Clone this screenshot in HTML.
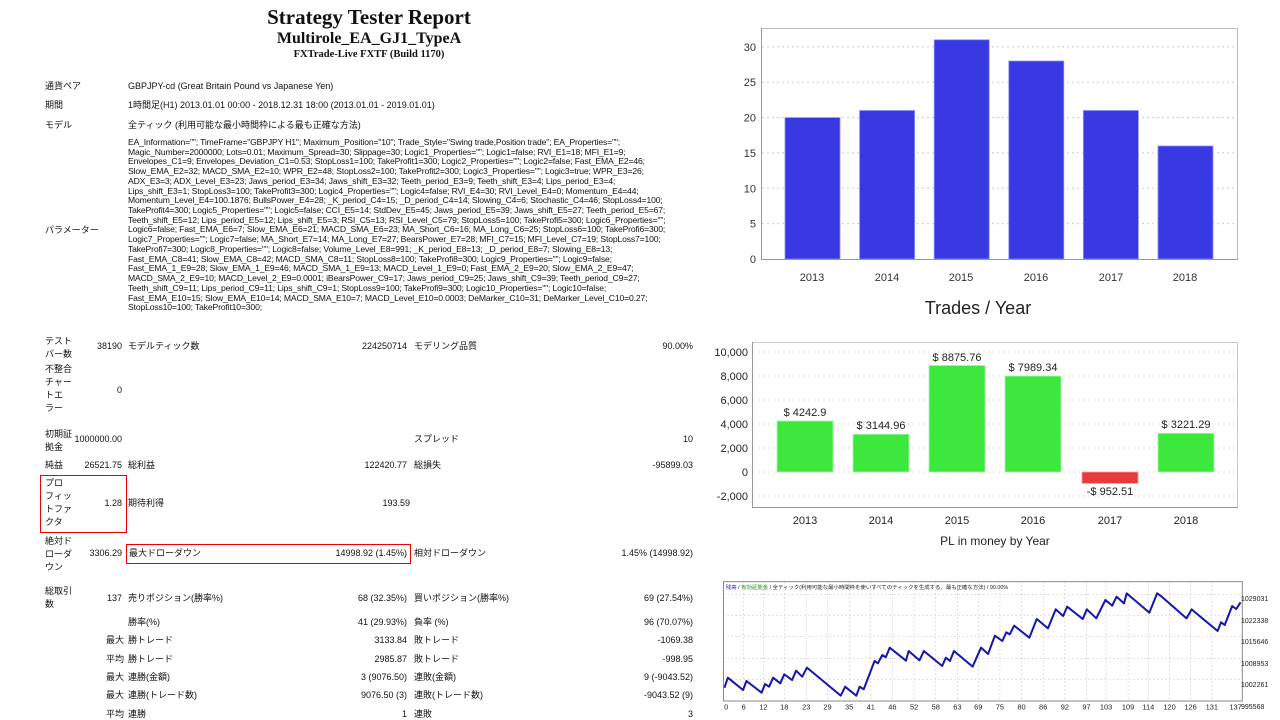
<!DOCTYPE html>
<html><head><meta charset="utf-8">
<style>
*{margin:0;padding:0;box-sizing:border-box}
body{width:1280px;height:720px;background:#fff;position:relative;overflow:hidden;font-family:"Liberation Sans","Noto Sans CJK JP",sans-serif;color:#111}
.a{position:absolute;white-space:nowrap;font-size:9px;line-height:11px}
.r{text-align:right}
.t{position:absolute;left:0;width:738px;text-align:center;font-family:"Liberation Serif",serif;font-weight:bold;white-space:nowrap}
.p{position:absolute;left:128px;top:138px;font-size:8.6px;line-height:9.72px;white-space:pre;letter-spacing:-0.15px}
.box{position:absolute;border:1px solid #e00}
</style></head><body>
<div class="t" style="top:5px;font-size:21px;line-height:24px">Strategy Tester Report</div>
<div class="t" style="top:29px;font-size:16px;line-height:19px">Multirole_EA_GJ1_TypeA</div>
<div class="t" style="top:49px;font-size:10.5px;line-height:12px">FXTrade-Live FXTF (Build 1170)</div>

<div class="a" style="left:45px;top:81px">通貨ペア</div><div class="a" style="left:128px;top:81px">GBPJPY-cd (Great Britain Pound vs Japanese Yen)</div>
<div class="a" style="left:45px;top:100px">期間</div><div class="a" style="left:128px;top:100px">1時間足(H1) 2013.01.01 00:00 - 2018.12.31 18:00 (2013.01.01 - 2019.01.01)</div>
<div class="a" style="left:45px;top:120px">モデル</div><div class="a" style="left:128px;top:120px">全ティック (利用可能な最小時間枠による最も正確な方法)</div>
<div class="a" style="left:45px;top:225px">パラメーター</div>
<div class="p">EA_Information=""; TimeFrame="GBPJPY H1"; Maximum_Position="10"; Trade_Style="Swing trade,Position trade"; EA_Properties="";
Magic_Number=2000000; Lots=0.01; Maximum_Spread=30; Slippage=30; Logic1_Properties=""; Logic1=false; RVI_E1=18; MFI_E1=9;
Envelopes_C1=9; Envelopes_Deviation_C1=0.53; StopLoss1=100; TakeProfit1=300; Logic2_Properties=""; Logic2=false; Fast_EMA_E2=46;
Slow_EMA_E2=32; MACD_SMA_E2=10; WPR_E2=48; StopLoss2=100; TakeProfit2=300; Logic3_Properties=""; Logic3=true; WPR_E3=26;
ADX_E3=3; ADX_Level_E3=23; Jaws_period_E3=34; Jaws_shift_E3=32; Teeth_period_E3=9; Teeth_shift_E3=4; Lips_period_E3=4;
Lips_shift_E3=1; StopLoss3=100; TakeProfit3=300; Logic4_Properties=""; Logic4=false; RVI_E4=30; RVI_Level_E4=0; Momentum_E4=44;
Momentum_Level_E4=100.1876; BullsPower_E4=28; _K_period_C4=15; _D_period_C4=14; Slowing_C4=6; Stochastic_C4=46; StopLoss4=100;
TakeProfit4=300; Logic5_Properties=""; Logic5=false; CCI_E5=14; StdDev_E5=45; Jaws_period_E5=39; Jaws_shift_E5=27; Teeth_period_E5=67;
Teeth_shift_E5=12; Lips_period_E5=12; Lips_shift_E5=3; RSI_C5=13; RSI_Level_C5=79; StopLoss5=100; TakeProfi5=300; Logic6_Properties="";
Logic6=false; Fast_EMA_E6=7; Slow_EMA_E6=21; MACD_SMA_E6=23; MA_Short_C6=16; MA_Long_C6=25; StopLoss6=100; TakeProfi6=300;
Logic7_Properties=""; Logic7=false; MA_Short_E7=14; MA_Long_E7=27; BearsPower_E7=28; MFI_C7=15; MFI_Level_C7=19; StopLoss7=100;
TakeProfi7=300; Logic8_Properties=""; Logic8=false; Volume_Level_E8=991; _K_period_E8=13; _D_period_E8=7; Slowing_E8=13;
Fast_EMA_C8=41; Slow_EMA_C8=42; MACD_SMA_C8=11; StopLoss8=100; TakeProfi8=300; Logic9_Properties=""; Logic9=false;
Fast_EMA_1_E9=28; Slow_EMA_1_E9=46; MACD_SMA_1_E9=13; MACD_Level_1_E9=0; Fast_EMA_2_E9=20; Slow_EMA_2_E9=47;
MACD_SMA_2_E9=10; MACD_Level_2_E9=0.0001; iBearsPower_C9=17; Jaws_period_C9=25; Jaws_shift_C9=39; Teeth_period_C9=27;
Teeth_shift_C9=11; Lips_period_C9=11; Lips_shift_C9=1; StopLoss9=100; TakeProfi9=300; Logic10_Properties=""; Logic10=false;
Fast_EMA_E10=15; Slow_EMA_E10=14; MACD_SMA_E10=7; MACD_Level_E10=0.0003; DeMarker_C10=31; DeMarker_Level_C10=0.27;
StopLoss10=100; TakeProfit10=300;</div>

<!-- stats -->
<div class="a" style="left:45px;top:335px;line-height:13px">テスト<br>バー数</div>
<div class="a r" style="right:1158px;top:341px">38190</div>
<div class="a" style="left:128px;top:341px">モデルティック数</div>
<div class="a r" style="right:873px;top:341px">224250714</div>
<div class="a" style="left:414px;top:341px">モデリング品質</div>
<div class="a r" style="right:587px;top:341px">90.00%</div>

<div class="a" style="left:45px;top:363px;line-height:13px">不整合<br>チャー<br>トエ<br>ラー</div>
<div class="a r" style="right:1158px;top:385px">0</div>

<div class="a" style="left:45px;top:428px;line-height:13px">初期証<br>拠金</div>
<div class="a r" style="right:1158px;top:434px">1000000.00</div>
<div class="a" style="left:414px;top:434px">スプレッド</div>
<div class="a r" style="right:587px;top:434px">10</div>

<div class="a" style="left:45px;top:460px">純益</div>
<div class="a r" style="right:1158px;top:460px">26521.75</div>
<div class="a" style="left:128px;top:460px">総利益</div>
<div class="a r" style="right:873px;top:460px">122420.77</div>
<div class="a" style="left:414px;top:460px">総損失</div>
<div class="a r" style="right:587px;top:460px">-95899.03</div>

<div class="box" style="left:40px;top:475px;width:87px;height:58px"></div>
<div class="a" style="left:45px;top:477px;line-height:13px">プロ<br>フィッ<br>トファ<br>クタ</div>
<div class="a r" style="right:1158px;top:498px">1.28</div>
<div class="a" style="left:128px;top:498px">期待利得</div>
<div class="a r" style="right:870px;top:498px">193.59</div>

<div class="a" style="left:45px;top:535px;line-height:13px">絶対ド<br>ローダ<br>ウン</div>
<div class="a r" style="right:1158px;top:548px">3306.29</div>
<div class="box" style="left:126px;top:544px;width:285px;height:20px"></div>
<div class="a" style="left:129px;top:548px">最大ドローダウン</div>
<div class="a r" style="right:873px;top:548px">14998.92 (1.45%)</div>
<div class="a" style="left:414px;top:548px">相対ドローダウン</div>
<div class="a r" style="right:587px;top:548px">1.45% (14998.92)</div>

<div class="a" style="left:45px;top:585px;line-height:13px">総取引<br>数</div>
<div class="a r" style="right:1158px;top:593px">137</div>
<div class="a" style="left:128px;top:593px">売りポジション(勝率%)</div>
<div class="a r" style="right:873px;top:593px">68 (32.35%)</div>
<div class="a" style="left:414px;top:593px">買いポジション(勝率%)</div>
<div class="a r" style="right:587px;top:593px">69 (27.54%)</div>

<div class="a" style="left:128px;top:617px">勝率(%)</div>
<div class="a r" style="right:873px;top:617px">41 (29.93%)</div>
<div class="a" style="left:414px;top:617px">負率 (%)</div>
<div class="a r" style="right:587px;top:617px">96 (70.07%)</div>

<div class="a" style="left:106px;top:635px">最大</div>
<div class="a" style="left:128px;top:635px">勝トレード</div>
<div class="a r" style="right:873px;top:635px">3133.84</div>
<div class="a" style="left:414px;top:635px">敗トレード</div>
<div class="a r" style="right:587px;top:635px">-1069.38</div>

<div class="a" style="left:106px;top:654px">平均</div>
<div class="a" style="left:128px;top:654px">勝トレード</div>
<div class="a r" style="right:873px;top:654px">2985.87</div>
<div class="a" style="left:414px;top:654px">敗トレード</div>
<div class="a r" style="right:587px;top:654px">-998.95</div>

<div class="a" style="left:106px;top:672px">最大</div>
<div class="a" style="left:128px;top:672px">連勝(金額)</div>
<div class="a r" style="right:873px;top:672px">3 (9076.50)</div>
<div class="a" style="left:414px;top:672px">連敗(金額)</div>
<div class="a r" style="right:587px;top:672px">9 (-9043.52)</div>

<div class="a" style="left:106px;top:690px">最大</div>
<div class="a" style="left:128px;top:690px">連勝(トレード数)</div>
<div class="a r" style="right:873px;top:690px">9076.50 (3)</div>
<div class="a" style="left:414px;top:690px">連敗(トレード数)</div>
<div class="a r" style="right:587px;top:690px">-9043.52 (9)</div>

<div class="a" style="left:106px;top:709px">平均</div>
<div class="a" style="left:128px;top:709px">連勝</div>
<div class="a r" style="right:873px;top:709px">1</div>
<div class="a" style="left:414px;top:709px">連敗</div>
<div class="a r" style="right:587px;top:709px">3</div>

<!-- Charts -->
<svg style="position:absolute;left:0;top:0" width="1280" height="720" font-family="Liberation Sans, sans-serif">
 <!-- Trades/Year -->
 <g stroke="#ccc" stroke-dasharray="2,3" stroke-width="1">
  <line x1="762" x2="1237" y1="223.6" y2="223.6"/><line x1="762" x2="1237" y1="188.3" y2="188.3"/>
  <line x1="762" x2="1237" y1="152.9" y2="152.9"/><line x1="762" x2="1237" y1="117.6" y2="117.6"/>
  <line x1="762" x2="1237" y1="82.2" y2="82.2"/><line x1="762" x2="1237" y1="46.9" y2="46.9"/>
 </g>
 <rect x="761.5" y="28.5" width="476" height="231" fill="none" stroke="#bbb"/>
 <line x1="761.5" y1="28" x2="761.5" y2="260" stroke="#999"/><line x1="761" y1="259.5" x2="1238" y2="259.5" stroke="#999"/>
 <g fill="#3939e3" stroke="#8c8cf5" stroke-width="0.8">
  <rect x="785" y="117.6" width="55" height="141.4"/><rect x="859.6" y="110.5" width="55" height="148.5"/>
  <rect x="934.2" y="39.8" width="55" height="219.2"/><rect x="1008.8" y="61" width="55" height="198"/>
  <rect x="1083.4" y="110.5" width="55" height="148.5"/><rect x="1158" y="146" width="55" height="113"/>
 </g>
 <g font-size="11" fill="#333" text-anchor="end">
  <text x="756" y="263">0</text><text x="756" y="227.6">5</text><text x="756" y="192.3">10</text><text x="756" y="156.9">15</text><text x="756" y="121.6">20</text><text x="756" y="86.2">25</text><text x="756" y="50.9">30</text>
 </g>
 <g font-size="11" fill="#333" text-anchor="middle">
  <text x="812" y="281">2013</text><text x="887" y="281">2014</text><text x="961" y="281">2015</text><text x="1036" y="281">2016</text><text x="1111" y="281">2017</text><text x="1185" y="281">2018</text>
  <text x="978" y="314" font-size="18" fill="#222">Trades / Year</text>
 </g>

 <!-- PL by year -->
 <g stroke="#ddd" stroke-dasharray="2,3">
  <line x1="753" x2="1238" y1="352" y2="352"/><line x1="753" x2="1238" y1="376" y2="376"/><line x1="753" x2="1238" y1="400" y2="400"/>
  <line x1="753" x2="1238" y1="424" y2="424"/><line x1="753" x2="1238" y1="448" y2="448"/><line x1="753" x2="1238" y1="472" y2="472"/><line x1="753" x2="1238" y1="496" y2="496"/>
 </g>
 <rect x="752.5" y="342.5" width="485" height="165" fill="none" stroke="#ccc"/>
 <line x1="752.5" y1="342" x2="752.5" y2="508" stroke="#999"/><line x1="752" y1="507.5" x2="1238" y2="507.5" stroke="#999"/>
 <g fill="#3ce83c" stroke="#a8f5a8" stroke-width="0.8">
  <rect x="777" y="421" width="56" height="51"/><rect x="853" y="434.3" width="56" height="37.7"/>
  <rect x="929" y="365.5" width="56" height="106.5"/><rect x="1005" y="376.1" width="56" height="95.9"/>
  <rect x="1158" y="433.3" width="56" height="38.7"/>
 </g>
 <rect x="1082" y="472" width="56" height="11.4" fill="#e8393c" stroke="#f5a0a0" stroke-width="0.8"/>
 <g font-size="11" fill="#222" text-anchor="end">
  <text x="748" y="356">10,000</text><text x="748" y="380">8,000</text><text x="748" y="404">6,000</text><text x="748" y="428">4,000</text><text x="748" y="452">2,000</text><text x="748" y="476">0</text><text x="748" y="500">-2,000</text>
 </g>
 <g font-size="11" fill="#222" text-anchor="middle">
  <text x="805" y="416">$ 4242.9</text><text x="881" y="429">$ 3144.96</text><text x="957" y="361">$ 8875.76</text><text x="1033" y="371">$ 7989.34</text><text x="1110" y="495">-$ 952.51</text><text x="1186" y="428">$ 3221.29</text>
  <text x="805" y="524">2013</text><text x="881" y="524">2014</text><text x="957" y="524">2015</text><text x="1033" y="524">2016</text><text x="1110" y="524">2017</text><text x="1186" y="524">2018</text>
  <text x="995" y="545" font-size="12">PL in money by Year</text>
 </g>
</svg>

<!-- Equity -->
<svg style="position:absolute;left:715px;top:575px" width="530" height="145" viewBox="0 0 1568 435" preserveAspectRatio="none" font-family="Liberation Sans, sans-serif">
 <g stroke="#bbb" stroke-dasharray="4,8" stroke-width="2">
  <line x1="25" x2="1555" y1="58" y2="58"/><line x1="25" x2="1555" y1="122" y2="122"/><line x1="25" x2="1555" y1="185" y2="185"/><line x1="25" x2="1555" y1="250" y2="250"/><line x1="25" x2="1555" y1="313" y2="313"/>
  <line x1="85" x2="85" y1="20" y2="378"/><line x1="143" x2="143" y1="20" y2="378"/><line x1="205" x2="205" y1="20" y2="378"/><line x1="270" x2="270" y1="20" y2="378"/><line x1="333" x2="333" y1="20" y2="378"/><line x1="397" x2="397" y1="20" y2="378"/><line x1="461" x2="461" y1="20" y2="378"/><line x1="525" x2="525" y1="20" y2="378"/><line x1="589" x2="589" y1="20" y2="378"/><line x1="653" x2="653" y1="20" y2="378"/><line x1="717" x2="717" y1="20" y2="378"/><line x1="779" x2="779" y1="20" y2="378"/><line x1="843" x2="843" y1="20" y2="378"/><line x1="907" x2="907" y1="20" y2="378"/><line x1="971" x2="971" y1="20" y2="378"/><line x1="1035" x2="1035" y1="20" y2="378"/><line x1="1099" x2="1099" y1="20" y2="378"/><line x1="1157" x2="1157" y1="20" y2="378"/><line x1="1222" x2="1222" y1="20" y2="378"/><line x1="1282" x2="1282" y1="20" y2="378"/><line x1="1345" x2="1345" y1="20" y2="378"/><line x1="1407" x2="1407" y1="20" y2="378"/><line x1="1470" x2="1470" y1="20" y2="378"/>
 </g>
 <rect x="25" y="20" width="1535" height="358" fill="none" stroke="#888" stroke-width="3"/>
 <polyline fill="none" stroke="#1616b0" stroke-width="6" stroke-linejoin="round" points="28,338 38,308 83,345 93,318 138,353 148,327 160,335 172,308 193,325 205,298 228,315 240,287 258,305 272,278 372,362 385,335 418,362 428,335 440,343 472,258 482,265 495,240 505,247 517,218 565,257 573,228 605,256 618,228 672,273 683,248 695,258 707,228 762,275 787,218 808,237 828,182 850,198 862,172 872,178 885,152 930,188 952,132 985,160 1008,103 1030,123 1042,95 1088,132 1100,103 1128,130 1155,75 1175,92 1188,65 1210,85 1218,55 1285,113 1308,55 1318,62 1395,130 1410,103 1487,168 1497,142 1508,150 1530,93 1542,102 1555,82"/>
 <text x="32" y="42" font-size="16" fill="#1a1aa0">残高 / <tspan fill="#1a9a1a">有効証拠金</tspan><tspan fill="#222"> / 全ティック(利用可能な最小時間枠を使いすべてのティックを生成する、最も正確な方法) / 90.00%</tspan></text>
 <g font-size="22" fill="#222" text-anchor="middle">
  <text x="33" y="404">0</text><text x="85" y="404">6</text><text x="143" y="404">12</text><text x="205" y="404">18</text><text x="270" y="404">23</text><text x="333" y="404">29</text><text x="397" y="404">35</text><text x="461" y="404">41</text><text x="525" y="404">46</text><text x="589" y="404">52</text><text x="653" y="404">58</text><text x="717" y="404">63</text><text x="779" y="404">69</text><text x="843" y="404">75</text><text x="907" y="404">80</text><text x="971" y="404">86</text><text x="1035" y="404">92</text><text x="1099" y="404">97</text><text x="1157" y="404">103</text><text x="1222" y="404">109</text><text x="1282" y="404">114</text><text x="1345" y="404">120</text><text x="1407" y="404">126</text><text x="1470" y="404">131</text><text x="1540" y="404">137</text>
 </g>
</svg>
<div style="position:absolute;left:1241px;top:589px;font-size:7px;line-height:21.5px;color:#222;font-family:'Liberation Sans',sans-serif">1029031<br>1022338<br>1015646<br>1008953<br>1002261<br>995568</div>
</body></html>
